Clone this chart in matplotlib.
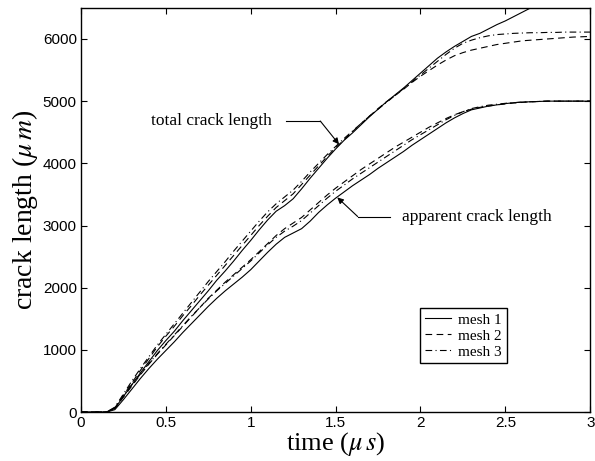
import matplotlib
matplotlib.use('Agg')
import matplotlib.pyplot as plt

# time axis (micro s)
t = [0, 0.15, 0.2, 0.25, 0.3, 0.35, 0.4, 0.45, 0.5, 0.55,
     0.6, 0.65, 0.7, 0.75, 0.8, 0.85, 0.9, 0.95, 1.0, 1.05,
     1.1, 1.15, 1.2, 1.25, 1.3, 1.35, 1.4, 1.45, 1.5, 1.55,
     1.6, 1.65, 1.7, 1.75, 1.8, 1.85, 1.9, 1.95, 2.0, 2.05,
     2.1, 2.15, 2.2, 2.25, 2.3, 2.35, 2.4, 2.45, 2.5, 2.55,
     2.6, 2.65, 2.7, 2.75, 2.8, 2.85, 2.9, 2.95, 3.0]

# total crack length (um)
total_mesh1 = [0, 0, 60, 250, 440, 630, 810, 990, 1150, 1300,
               1470, 1630, 1790, 1950, 2120, 2270, 2430, 2600, 2760, 2930,
               3090, 3230, 3320, 3430, 3590, 3760, 3920, 4080, 4230, 4370,
               4490, 4620, 4750, 4870, 4990, 5100, 5210, 5330, 5450, 5570,
               5690, 5790, 5880, 5960, 6040, 6090, 6160, 6230, 6290, 6360,
               6430, 6500, 6560, 6620, 6680, 6740, 6800, 6860, 6920]
total_mesh2 = [0, 0, 70, 270, 470, 670, 860, 1050, 1220, 1380,
               1550, 1710, 1880, 2040, 2200, 2360, 2520, 2680, 2840, 3000,
               3150, 3290, 3400, 3510, 3660, 3810, 3960, 4110, 4250, 4380,
               4510, 4640, 4760, 4880, 4990, 5090, 5190, 5300, 5400, 5490,
               5580, 5660, 5730, 5780, 5820, 5850, 5880, 5910, 5930, 5950,
               5970, 5980, 5990, 6000, 6010, 6020, 6030, 6035, 6040]
total_mesh3 = [0, 0, 80, 290, 500, 700, 890, 1080, 1250, 1420,
               1590, 1760, 1930, 2100, 2260, 2420, 2590, 2750, 2910, 3070,
               3220, 3350, 3460, 3570, 3710, 3860, 4000, 4140, 4270, 4400,
               4520, 4640, 4760, 4870, 4980, 5090, 5200, 5310, 5420, 5530,
               5640, 5750, 5850, 5930, 5980, 6020, 6050, 6070, 6080, 6090,
               6095, 6100, 6100, 6105, 6105, 6110, 6110, 6110, 6110]

# apparent crack length (um)
app_mesh1 = [0, 0, 40, 200, 370, 540, 700, 850, 990, 1130,
             1280, 1420, 1560, 1700, 1830, 1950, 2060, 2170, 2290, 2430,
             2570, 2700, 2810, 2880, 2950, 3070, 3210, 3330, 3440, 3540,
             3640, 3730, 3820, 3920, 4010, 4100, 4190, 4290, 4380, 4470,
             4560, 4650, 4730, 4800, 4860, 4890, 4920, 4940, 4960, 4975,
             4985, 4990, 4995, 5000, 5000, 5000, 5000, 5000, 5000]
app_mesh2 = [0, 0, 60, 240, 420, 600, 770, 930, 1080, 1230,
             1380, 1530, 1680, 1830, 1960, 2090, 2210, 2330, 2450, 2580,
             2710, 2840, 2950, 3040, 3130, 3250, 3370, 3490, 3600, 3700,
             3800, 3900, 3990, 4080, 4170, 4260, 4340, 4420, 4500, 4580,
             4650, 4720, 4780, 4830, 4870, 4900, 4920, 4940, 4955, 4970,
             4980, 4990, 4995, 5000, 5000, 5000, 5000, 5000, 5000]
app_mesh3 = [0, 0, 70, 260, 440, 610, 780, 940, 1090, 1240,
             1390, 1540, 1680, 1820, 1950, 2070, 2190, 2310, 2430, 2560,
             2690, 2810, 2910, 2990, 3080, 3200, 3320, 3440, 3550, 3650,
             3750, 3840, 3930, 4020, 4110, 4200, 4290, 4380, 4460, 4540,
             4620, 4700, 4770, 4830, 4880, 4910, 4935, 4950, 4965, 4975,
             4985, 4990, 4995, 5000, 5000, 5000, 5000, 5000, 5000]

x_ticks = [0, 0.5, 1, 1.5, 2, 2.5, 3]
x_tick_labels = ['0', '0.5', '1', '1.5', '2', '2.5', '3']
y_ticks = [0, 1000, 2000, 3000, 4000, 5000, 6000]

# annotation anchors (data coords): text, elbow, arrow tip
total_text = (0.41, 4680)
total_elbow = [(1.21, 4680), (1.41, 4680)]
total_tip = (1.52, 4306)
app_text = (1.89, 3145)
app_elbow = [(1.82, 3145), (1.63, 3145)]
app_tip = (1.51, 3452)

plt.rcParams['mathtext.fontset'] = 'stix'
serif = 'Liberation Serif'
sans = 'Liberation Sans'

fig = plt.figure(figsize=(5.95, 4.61), dpi=100)
ax = fig.add_axes([0.136, 0.106, 0.856, 0.877])

lw = 0.8
ax.plot(t, total_mesh1, 'k-', lw=lw, label='mesh 1')
ax.plot(t, total_mesh2, 'k', lw=lw, dashes=(6, 4), label='mesh 2')
ax.plot(t, total_mesh3, 'k', lw=lw, dashes=(6, 3, 1, 3), label='mesh 3')
ax.plot(t, app_mesh1, 'k-', lw=lw)
ax.plot(t, app_mesh2, 'k', lw=lw, dashes=(6, 4))
ax.plot(t, app_mesh3, 'k', lw=lw, dashes=(6, 3, 1, 3))

# annotation: total crack length
ax.text(total_text[0], total_text[1], 'total crack length', family=serif,
        fontsize=12.5, va='center', ha='left')
ax.plot([p[0] for p in total_elbow], [p[1] for p in total_elbow], 'k-', lw=0.8)
ax.annotate('', xy=total_tip, xytext=total_elbow[1],
            arrowprops=dict(arrowstyle='-|>', color='k', lw=0.8,
                            mutation_scale=9, shrinkA=0, shrinkB=0))

# annotation: apparent crack length
ax.text(app_text[0], app_text[1], 'apparent crack length', family=serif,
        fontsize=12.5, va='center', ha='left')
ax.plot([p[0] for p in app_elbow], [p[1] for p in app_elbow], 'k-', lw=0.8)
ax.annotate('', xy=app_tip, xytext=app_elbow[1],
            arrowprops=dict(arrowstyle='-|>', color='k', lw=0.8,
                            mutation_scale=9, shrinkA=0, shrinkB=0))

ax.set_xlim(0, 3)
ax.set_ylim(0, 6500)
ax.set_xticks(x_ticks)
ax.set_xticklabels(x_tick_labels)
ax.set_yticks(y_ticks)
ax.tick_params(direction='in', top=True, right=True, length=4, width=0.8,
               labelsize=11, pad=3)
for lab in ax.get_xticklabels() + ax.get_yticklabels():
    lab.set_family(sans)
for s in ax.spines.values():
    s.set_linewidth(1.0)

ax.set_xlabel(r'time ($\mu\,s$)', family=serif, fontsize=19, labelpad=0)
ax.set_ylabel(r'crack length ($\mu\,m$)', family=serif, fontsize=20, labelpad=2)

leg = ax.legend(loc='lower left', bbox_to_anchor=(0.666, 0.121),
                prop={'family': serif, 'size': 11}, handlelength=1.7,
                handletextpad=0.5, labelspacing=0.15, borderpad=0.3,
                borderaxespad=0, fancybox=False, framealpha=1)
leg.get_frame().set_edgecolor('k')
leg.get_frame().set_linewidth(1.0)

fig.savefig('out.png', dpi=100)
